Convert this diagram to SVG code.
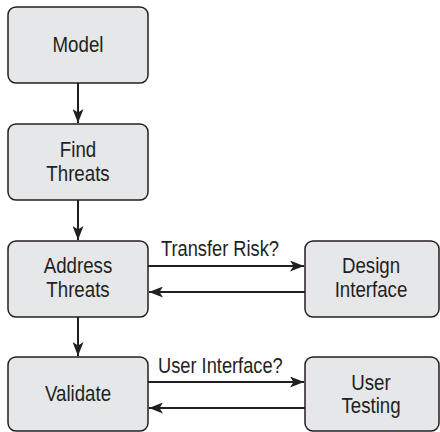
<svg xmlns="http://www.w3.org/2000/svg" width="440" height="432" viewBox="0 0 440 432">
<defs>
<style>
.box{fill:#e6e7e8;stroke:#231f20;stroke-width:1.5}
.t{font-family:"Liberation Sans",Arial,sans-serif;font-size:22px;fill:#231f20;text-anchor:middle}
.l{font-family:"Liberation Sans",Arial,sans-serif;font-size:22px;fill:#231f20}
.c{stroke:#231f20;stroke-width:2;fill:none}
</style>
<marker id="ah" viewBox="0 0 14 11" refX="14" refY="5.5" markerWidth="14" markerHeight="11" markerUnits="userSpaceOnUse" orient="auto">
<path d="M0,0 L14,5.5 L0,11 L3.5,5.5 Z" fill="#231f20"/>
</marker>
</defs>
<rect width="440" height="432" fill="#fff"/>
<g id="connectors">
<line class="c" x1="78" y1="83" x2="78" y2="123" marker-end="url(#ah)"/>
<line class="c" x1="78" y1="200" x2="78" y2="240" marker-end="url(#ah)"/>
<line class="c" x1="78" y1="317" x2="78" y2="356" marker-end="url(#ah)"/>
<line class="c" x1="148" y1="266" x2="304" y2="266" marker-end="url(#ah)"/>
<line class="c" x1="305" y1="292" x2="149" y2="292" marker-end="url(#ah)"/>
<line class="c" x1="148" y1="382" x2="304" y2="382" marker-end="url(#ah)"/>
<line class="c" x1="305" y1="408" x2="149" y2="408" marker-end="url(#ah)"/>
<text class="l" transform="translate(161 256) scale(0.83 1)">Transfer Risk?</text>
<text class="l" transform="translate(158 373) scale(0.83 1)">User Interface?</text>
</g>
<g id="model">
<rect class="box" x="8" y="7" width="140" height="76" rx="8"/>
<text class="t" transform="translate(78 52) scale(0.85 1)">Model</text>
</g>
<g id="find-threats">
<rect class="box" x="8" y="124" width="140" height="76" rx="8"/>
<text class="t" transform="translate(78 157) scale(0.85 1)">Find</text>
<text class="t" transform="translate(78 181) scale(0.85 1)">Threats</text>
</g>
<g id="address-threats">
<rect class="box" x="8" y="241" width="140" height="76" rx="8"/>
<text class="t" transform="translate(78 273) scale(0.85 1)">Address</text>
<text class="t" transform="translate(78 297) scale(0.85 1)">Threats</text>
</g>
<g id="design-interface">
<rect class="box" x="305" y="241" width="134" height="76" rx="8"/>
<text class="t" transform="translate(371 273) scale(0.85 1)">Design</text>
<text class="t" transform="translate(371 297) scale(0.85 1)">Interface</text>
</g>
<g id="validate">
<rect class="box" x="8" y="357" width="140" height="74" rx="8"/>
<text class="t" transform="translate(78 401) scale(0.85 1)">Validate</text>
</g>
<g id="user-testing">
<rect class="box" x="305" y="357" width="134" height="74" rx="8"/>
<text class="t" transform="translate(371 390) scale(0.85 1)">User</text>
<text class="t" transform="translate(371 413) scale(0.85 1)">Testing</text>
</g>
</svg>
